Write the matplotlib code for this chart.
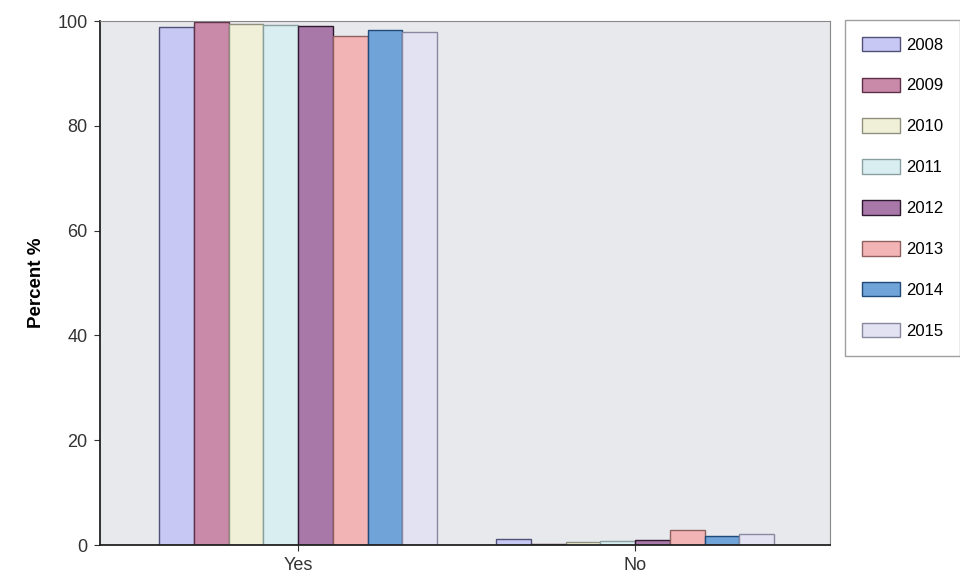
import matplotlib
matplotlib.use("Agg")
import matplotlib.pyplot as plt
import numpy as np

categories = ["Yes", "No"]
years = ["2008", "2009", "2010", "2011", "2012", "2013", "2014", "2015"]
yes_values = [98.9, 99.8, 99.4, 99.2, 99.0, 97.2, 98.2, 97.9]
no_values = [1.1, 0.2, 0.6, 0.8, 1.0, 2.8, 1.8, 2.1]
face_colors = ["#c8c8f4", "#c88aa8", "#f0f0d8", "#d8eef0", "#a878a8",
               "#f2b4b4", "#70a4d8", "#e2e2f2"]
edge_colors = ["#505078", "#603048", "#909080", "#8aa0a0", "#301830",
               "#906060", "#204878", "#8888a0"]

plt.rcParams['font.family'] = ['Liberation Sans', 'DejaVu Sans']
fig = plt.figure(figsize=(9.6, 5.81), dpi=100)
ax = fig.add_axes([100/960, 1-545/581, 730/960, 524/581])
ax.set_facecolor("#e7e9ec")

x = np.arange(len(categories))
n = len(years)
width = 0.825 / n
for i, yr in enumerate(years):
    vals = [yes_values[i], no_values[i]]
    ax.bar(x - 0.825/2 + width*(i+0.5), vals, width=width,
           color=face_colors[i], edgecolor=edge_colors[i], linewidth=1.0,
           label=yr)

ax.set_xlim(-0.588, 1.578)
ax.set_ylim(0, 100)
ax.set_yticks([0, 20, 40, 60, 80, 100])
ax.set_xticks(x)
ax.set_xticklabels(categories)
ax.tick_params(axis='both', labelsize=13, colors="#333333", length=4, pad=5)
ax.set_ylabel("Percent %", fontsize=13.5, fontweight='bold', labelpad=9)

for s in ['top', 'right']:
    ax.spines[s].set_color("#888888")
for s in ['left', 'bottom']:
    ax.spines[s].set_color("#222222")
    ax.spines[s].set_linewidth(1.3)

leg = ax.legend(loc='upper left', bbox_to_anchor=(1.021, 1.002), fontsize=12,
                frameon=True, fancybox=False, edgecolor="#888888",
                handlelength=2.3, handleheight=0.95, labelspacing=1.5,
                borderpad=1.0, handletextpad=0.35, borderaxespad=0)
leg.get_frame().set_linewidth(1.0)

fig.savefig("out.png", dpi=100)
